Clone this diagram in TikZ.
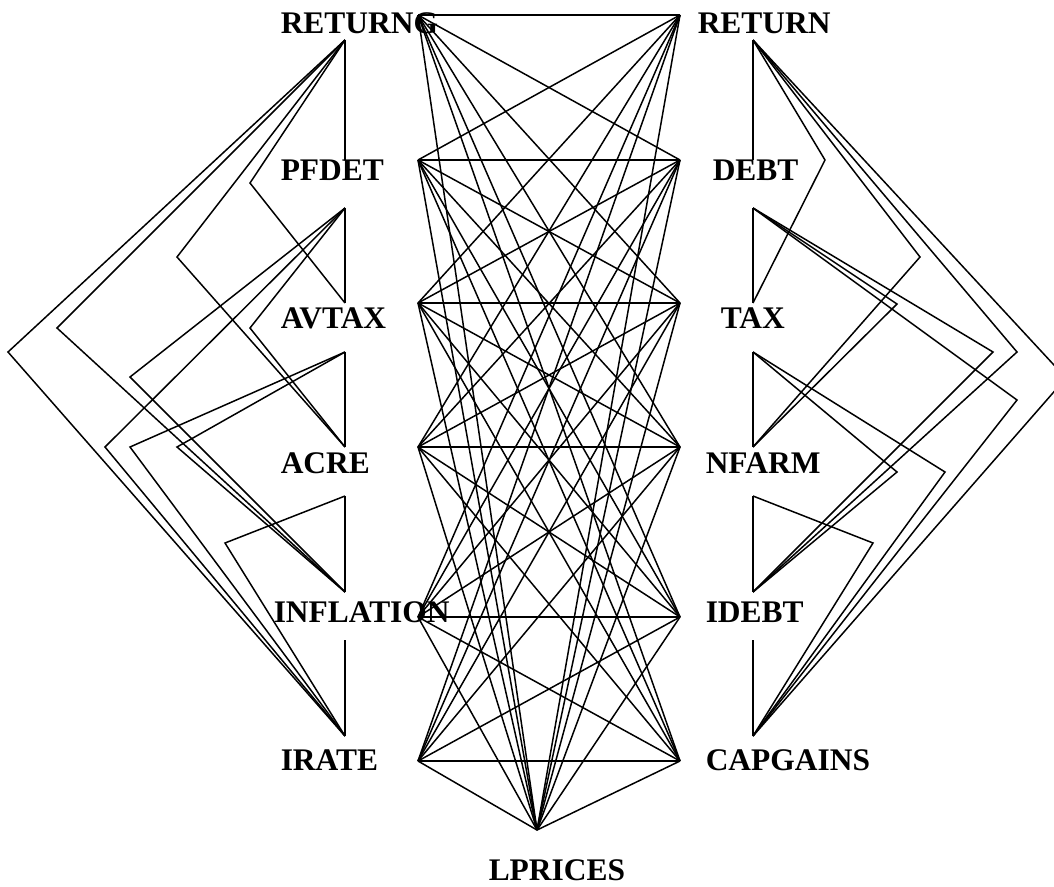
\documentclass[tikz,border=0pt]{standalone}
\usepackage{fontspec}
\setmainfont{Liberation Serif}
\begin{document}
\begin{tikzpicture}[x=0.02cm, y=-0.02cm, line width=0.85pt,
    var/.style={anchor=base west, inner sep=0pt, font=\bfseries\fontsize{17.9}{20}\selectfont}]
    \useasboundingbox (0,0) rectangle (1054,886);
    \clip (0,0) rectangle (1054,886);

    % variable names
    \node[var] (returng) at (280,33) {RETURNG};
    \node[var] (pfdet) at (280,180) {PFDET};
    \node[var] (avtax) at (280,328) {AVTAX};
    \node[var] (acre) at (280,473) {ACRE};
    \node[var] (inflation) at (273,622) {INFLATION};
    \node[var] (irate) at (280,770) {IRATE};
    \node[var] (return) at (697,33) {RETURN};
    \node[var] (debt) at (712,180) {DEBT};
    \node[var] (tax) at (720,328) {TAX};
    \node[var] (nfarm) at (705,473) {NFARM};
    \node[var] (idebt) at (705,622) {IDEBT};
    \node[var] (capgains) at (705,770) {CAPGAINS};
    \node[var] (lprices) at (488,880) {LPRICES};

    % ports: m = middle, t = top, b = bottom
    \coordinate (returng-m) at (418,15);   \coordinate (returng-b) at (345,40);
    \coordinate (pfdet-m) at (418,160);    \coordinate (pfdet-t) at (345,160);    \coordinate (pfdet-b) at (345,208);
    \coordinate (avtax-m) at (418,303);    \coordinate (avtax-t) at (345,303);    \coordinate (avtax-b) at (345,352);
    \coordinate (acre-m) at (418,447);     \coordinate (acre-t) at (345,447);     \coordinate (acre-b) at (345,496);
    \coordinate (inflation-m) at (418,617); \coordinate (inflation-t) at (345,592); \coordinate (inflation-b) at (345,640);
    \coordinate (irate-m) at (418,761);    \coordinate (irate-t) at (345,736);
    \coordinate (return-m) at (680,15);    \coordinate (return-b) at (753,40);
    \coordinate (debt-m) at (680,160);     \coordinate (debt-t) at (753,160);     \coordinate (debt-b) at (753,208);
    \coordinate (tax-m) at (680,303);      \coordinate (tax-t) at (753,303);      \coordinate (tax-b) at (753,352);
    \coordinate (nfarm-m) at (680,447);    \coordinate (nfarm-t) at (753,447);    \coordinate (nfarm-b) at (753,496);
    \coordinate (idebt-m) at (680,617);    \coordinate (idebt-t) at (753,592);    \coordinate (idebt-b) at (753,640);
    \coordinate (capgains-m) at (680,761); \coordinate (capgains-t) at (753,736);
    \coordinate (lprices-m) at (537,830);

    % middle block
    \foreach \a in {returng,pfdet,avtax,acre,inflation,irate}{
        \foreach \b in {return,debt,tax,nfarm,idebt,capgains}
            \draw (\a-m) -- (\b-m);
        \draw (\a-m) -- (lprices-m);
    }
    \foreach \b in {return,debt,tax,nfarm,idebt,capgains}
        \draw (\b-m) -- (lprices-m);

    % left side
    \draw (returng-b) -- (pfdet-t);
    \draw (pfdet-b) -- (avtax-t);
    \draw (avtax-b) -- (acre-t);
    \draw (acre-b) -- (inflation-t);
    \draw (inflation-b) -- (irate-t);
    \draw (returng-b) -- (250,183) -- (avtax-t);
    \draw (returng-b) -- (177,257) -- (acre-t);
    \draw (returng-b) -- (57,328) -- (inflation-t);
    \draw (returng-b) -- (8,352) -- (irate-t);
    \draw (pfdet-b) -- (250,328) -- (acre-t);
    \draw (pfdet-b) -- (130,377) -- (inflation-t);
    \draw (pfdet-b) -- (105,447) -- (irate-t);
    \draw (avtax-b) -- (177,447) -- (inflation-t);
    \draw (avtax-b) -- (130,447) -- (irate-t);
    \draw (acre-b) -- (225,543) -- (irate-t);

    % right side
    \draw (return-b) -- (debt-t);
    \draw (debt-b) -- (tax-t);
    \draw (tax-b) -- (nfarm-t);
    \draw (nfarm-b) -- (idebt-t);
    \draw (idebt-b) -- (capgains-t);
    \draw (return-b) -- (825,160) -- (tax-t);
    \draw (return-b) -- (920,257) -- (nfarm-t);
    \draw (return-b) -- (1017,352) -- (idebt-t);
    \draw (return-b) -- (1066,378) -- (capgains-t);
    \draw (debt-b) -- (897,304) -- (nfarm-t);
    \draw (debt-b) -- (993,352) -- (idebt-t);
    \draw (debt-b) -- (1017,400) -- (capgains-t);
    \draw (tax-b) -- (897,472) -- (idebt-t);
    \draw (tax-b) -- (945,472) -- (capgains-t);
    \draw (nfarm-b) -- (873,543) -- (capgains-t);
\end{tikzpicture}
\end{document}
